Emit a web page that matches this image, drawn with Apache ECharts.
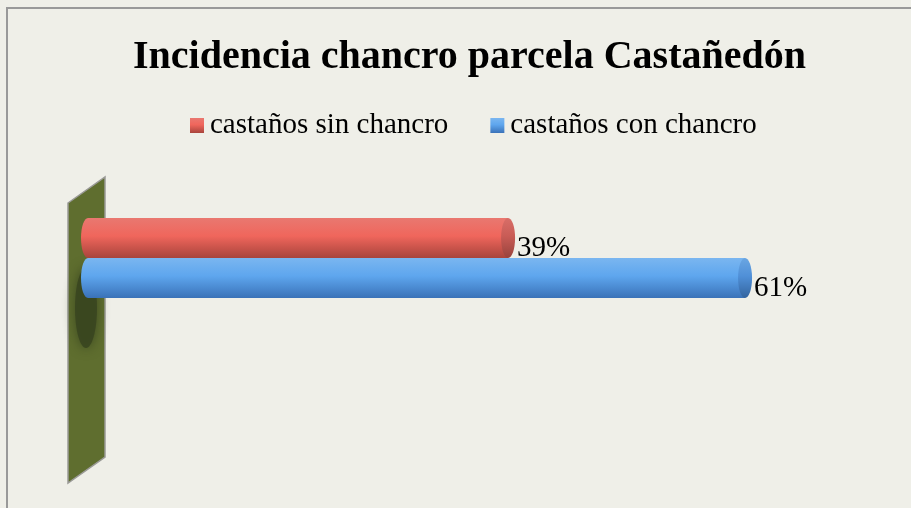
<!DOCTYPE html>
<html>
<head>
<meta charset="utf-8">
<script src="https://cdn.jsdelivr.net/npm/echarts@6/dist/echarts.min.js"></script>
<style>
  html, body { margin: 0; padding: 0; background: #efefe8; }
  #main { width: 911px; height: 508px; }
</style>
</head>
<body>
<div id="main"></div>
<script>
var titleText = "Incidencia chancro parcela Castañedón";
var categories = ["parcela"];
var seriesNames = ["castaños sin chancro", "castaños con chancro"];
var sinChancro = [39];
var conChancro = [61];

var serif = "'Liberation Serif', 'DejaVu Serif', serif";

function grad(top, mid, bottom) {
  return new echarts.graphic.LinearGradient(0, 0, 0, 1, [
    { offset: 0, color: top },
    { offset: 0.45, color: mid },
    { offset: 1, color: bottom }
  ]);
}
var redBody = grad("#e97870", "#f0665c", "#a8443c");
var blueBody = grad("#7ab6f0", "#5ea6ee", "#3a72b8");
var redCap = grad("#d86e68", "#c95c56", "#98423c");
var blueCap = grad("#6aa6e2", "#5090d8", "#33649e");

// draws the round ends of each cylinder from the data value
function cylinderEnds(side, bodyColor, capColor) {
  return function (params, api) {
    var mid = api.coord([0, api.value(1)])[1];
    var h = 40;
    var cy = mid + side * h / 2;
    var x0 = api.coord([0, api.value(1)])[0];
    var x1 = api.coord([api.value(0), api.value(1)])[0];
    return {
      type: "group",
      children: [
        {
          type: "ellipse", z2: -1,
          shape: { cx: x0, cy: cy, rx: 7, ry: h / 2 },
          style: { fill: bodyColor }
        },
        {
          type: "ellipse",
          shape: { cx: x1, cy: cy, rx: 7, ry: h / 2 },
          style: { fill: capColor }
        }
      ]
    };
  };
}
function pairs(arr) {
  return arr.map(function (v, i) { return [v, i]; });
}

var labelStyle = {
  show: true, position: "right", distance: 9, offset: [0, 10],
  formatter: "{c}%", fontFamily: serif, fontSize: 29, color: "#000"
};

var chart = echarts.init(document.getElementById("main"));
chart.setOption({
  backgroundColor: "#efefe8",
  animation: false,
  title: {
    text: titleText,
    left: 128,
    top: 33,
    textStyle: { fontFamily: serif, fontSize: 40, fontWeight: "bold", color: "#000" }
  },
  legend: {
    top: 106,
    left: 185,
    data: seriesNames,
    itemWidth: 14,
    itemHeight: 15,
    itemGap: 42,
    icon: "rect",
    textStyle: { fontFamily: serif, fontSize: 29, color: "#000", padding: [0, 0, 0, 1] }
  },
  graphic: [
    {
      type: "rect", z: -10, silent: true,
      shape: { x: 7, y: 8, width: 930, height: 520 },
      style: { fill: "#efefe8", stroke: "#999", lineWidth: 2 }
    },
    {
      type: "polygon", z: -5, silent: true,
      shape: { points: [[68, 203], [105, 177], [105, 457], [68, 483]] },
      style: { fill: "#5f6e2f", stroke: "#9a9a96", lineWidth: 1.5 }
    },
    {
      type: "ellipse", z: -4, silent: true,
      shape: { cx: 86, cy: 308, rx: 11, ry: 40 },
      style: { fill: "#3a4720", shadowBlur: 12, shadowColor: "#3a4720", opacity: 0.95 }
    }
  ],
  grid: { left: 88, right: 69, top: 178, bottom: 170 },
  xAxis: {
    type: "value", min: 0, max: 70, show: false
  },
  yAxis: {
    type: "category", data: categories, inverse: true, show: false
  },
  series: [
    {
      name: seriesNames[0], type: "bar", data: sinChancro,
      barWidth: 40, barGap: "0%", z: 2,
      itemStyle: { color: redBody },
      label: labelStyle
    },
    {
      name: seriesNames[1], type: "bar", data: conChancro,
      barWidth: 40, barGap: "0%", z: 2,
      itemStyle: { color: blueBody },
      label: labelStyle
    },
    {
      name: seriesNames[0], type: "custom", data: pairs(sinChancro),
      encode: { x: 0, y: 1 }, z: 3,
      renderItem: cylinderEnds(-1, redBody, redCap)
    },
    {
      name: seriesNames[1], type: "custom", data: pairs(conChancro),
      encode: { x: 0, y: 1 }, z: 3,
      renderItem: cylinderEnds(1, blueBody, blueCap)
    }
  ]
});
</script>
</body>
</html>
